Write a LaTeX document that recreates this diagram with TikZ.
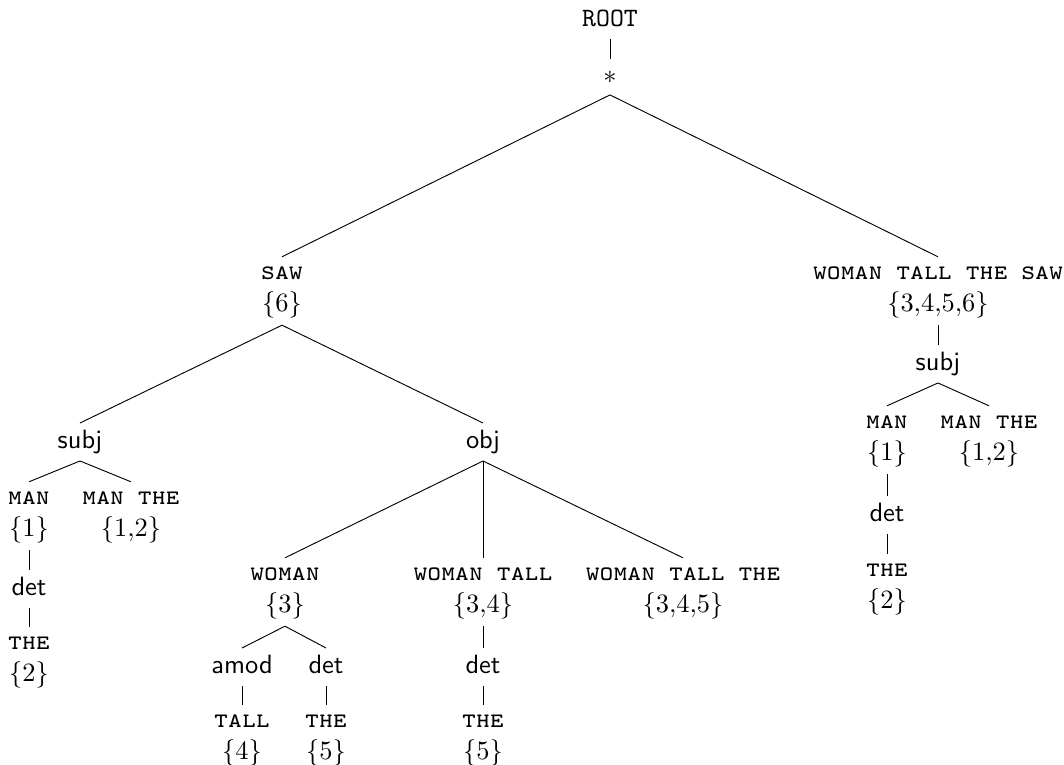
\documentclass[tikz,border=0pt]{standalone}
\tikzstyle{word} = [align=center,inner sep=2.5pt,font=\ttfamily\scshape]
\tikzstyle{rel}  = [inner sep=2.5pt,text height=7pt,text depth=2pt,font=\sffamily]
\newcommand{\lex}[2]{\rule{0pt}{6pt}#1\\$\{#2\}$}

\begin{document}
\begin{tikzpicture}[x=0.378pt,y=-0.378pt,line width=0.35pt]
\useasboundingbox (0,0) rectangle (1064,765);

    % top
    \node(root)[rel,font=\ttfamily] at (610,20) {ROOT};
    \node(star)[inner sep=2.5pt,text height=6.5pt,text depth=1.7pt] at (610,77) {$*$};

    % second level
    \node(saw)[word]  at (282,291) {\lex{saw}{6}};
    \node(wtts)[word] at (938,291) {\lex{woman tall the saw}{3{,}4{,}5{,}6}};

    % right subtree
    \node(subjR)[rel]    at (938,364) {subj};
    \node(manR)[word]    at (887,440) {\lex{man}{1}};
    \node(mantheR)[word] at (989,440) {\lex{man the}{1{,}2}};
    \node(detR)[rel]     at (887,515) {det};
    \node(theR)[word]    at (887,588) {\lex{the}{2}};

    % left subtree, subj
    \node(subjL)[rel]    at (80,442)  {subj};
    \node(manL)[word]    at (29,516)  {\lex{man}{1}};
    \node(mantheL)[word] at (131,516) {\lex{man the}{1{,}2}};
    \node(detL)[rel]     at (29,589)  {det};
    \node(theL)[word]    at (29,661)  {\lex{the}{2}};

    % left subtree, obj
    \node(obj)[rel]      at (483,442) {obj};
    \node(woman)[word]   at (285,592) {\lex{woman}{3}};
    \node(wt)[word]      at (483,592) {\lex{woman tall}{3{,}4}};
    \node(wtt)[word]     at (683,592) {\lex{woman tall the}{3{,}4{,}5}};
    \node(amod)[rel]     at (242,667) {amod};
    \node(detW)[rel]     at (326,667) {det};
    \node(tall)[word]    at (242,739) {\lex{tall}{4}};
    \node(theW)[word]    at (326,739) {\lex{the}{5}};
    \node(detWT)[rel]    at (483,667) {det};
    \node(theWT)[word]   at (483,739) {\lex{the}{5}};

    \draw(root.south)--(star.north);
    \draw(star.south)--(saw.north);
    \draw(star.south)--(wtts.north);
    \draw(wtts.south)--(subjR.north);
    \draw(subjR.south)--(manR.north);
    \draw(subjR.south)--(mantheR.north);
    \draw(manR.south)--(detR.north);
    \draw(detR.south)--(theR.north);
    \draw(saw.south)--(subjL.north);
    \draw(saw.south)--(obj.north);
    \draw(subjL.south)--(manL.north);
    \draw(subjL.south)--(mantheL.north);
    \draw(manL.south)--(detL.north);
    \draw(detL.south)--(theL.north);
    \draw(obj.south)--(woman.north);
    \draw(obj.south)--(wt.north);
    \draw(obj.south)--(wtt.north);
    \draw(woman.south)--(amod.north);
    \draw(woman.south)--(detW.north);
    \draw(amod.south)--(tall.north);
    \draw(detW.south)--(theW.north);
    \draw(wt.south)--(detWT.north);
    \draw(detWT.south)--(theWT.north);

\end{tikzpicture}
\end{document}
